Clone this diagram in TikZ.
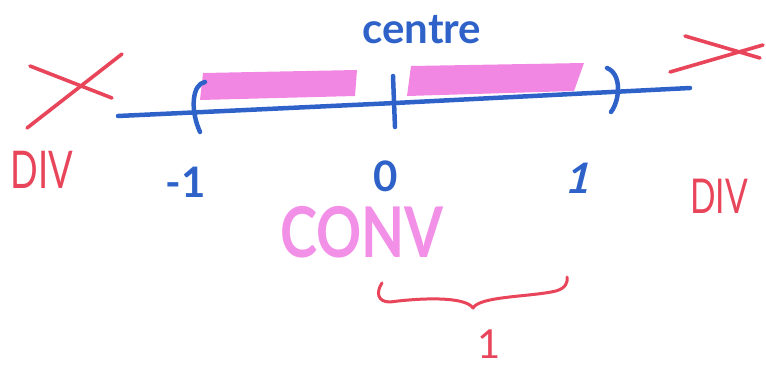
\documentclass[tikz,border=0pt]{standalone}
\usepackage{fontspec}
\setmainfont{Lato}
\definecolor{penblue}{HTML}{2F62C9}
\definecolor{penred}{HTML}{E8455A}
\definecolor{hlpink}{HTML}{F07ADF}
\definecolor{convpink}{HTML}{F290E8}
\begin{document}
\begin{tikzpicture}[x=1pt,y=-1pt,
  blueline/.style={draw=penblue,line width=4.5pt,line cap=round,line join=round},
  redline/.style={draw=penred,line width=3.6pt,line cap=round,line join=round},
  hl/.style={fill=hlpink,opacity=0.9},
  bluetxt/.style={text=penblue,inner sep=0pt},
  redtxt/.style={text=penred,inner sep=0pt}]
\useasboundingbox (0,0) rectangle (766,373);
% highlights
\fill[hl] (203,73) -- (357,70) -- (355,96) -- (200,100) -- cycle;
\fill[hl] (411,66) -- (584,63) -- (574,91) -- (407,96) -- cycle;
% axis
\coordinate (aL) at (118,116);
\coordinate (aR) at (690,88);
\draw[blueline] (aL) -- (395,103) -- (aR);
\coordinate (t1) at (393,76);
\coordinate (t2) at (395,127);
\draw[blueline] (t1) -- (t2);
% brackets
\coordinate (b1) at (205,82);
\coordinate (b2) at (200,132);
\draw[blueline] (b1) .. controls (192,84) and (190,110) .. (b2);
\coordinate (c1) at (607,68);
\coordinate (c2) at (611,112);
\draw[blueline] (c1) .. controls (622,74) and (620,100) .. (c2);
% labels
\node[bluetxt,font=\fontsize{42}{42}\selectfont\bfseries] (centre) at (422,30) {centre};
\node[bluetxt,font=\fontsize{42}{42}\selectfont\bfseries] (m1) at (186,182) {-1};
\node[bluetxt,font=\fontsize{42}{42}\selectfont\bfseries] (zero) at (386,176) {0};
\node[bluetxt,font=\fontsize{42}{42}\selectfont\bfseries,xslant=0.25] (one) at (580,178) {1};
% crosses
\coordinate (x1a) at (30,66); \coordinate (x1b) at (112,98);
\coordinate (x2a) at (122,54); \coordinate (x2b) at (27,128);
\draw[redline] (x1a) -- (x1b);
\draw[redline] (x2a) -- (x2b);
\coordinate (y1a) at (685,36); \coordinate (y1b) at (760,58);
\coordinate (y2a) at (670,72); \coordinate (y2b) at (763,45);
\draw[redline] (y1a) -- (y1b);
\draw[redline] (y2a) -- (y2b);
\node[redtxt,font=\fontsize{52}{52}\selectfont,xscale=0.7] (divl) at (42,170) {DIV};
\node[redtxt,font=\fontsize{48}{48}\selectfont,xscale=0.7] (divr) at (719,196) {DIV};
% conv
\node[text=convpink,inner sep=0pt,font=\fontsize{70}{70}\selectfont\bfseries,xscale=0.8] (conv) at (362,232) {CONV};
% brace
\coordinate (brL) at (382,283);
\coordinate (brM) at (473,308);
\coordinate (brR) at (567,277);
\draw[redline,line width=3pt] (brL) .. controls (376,292) and (377,302) .. (390,302)
  .. controls (420,298) and (465,296) .. (brM)
  .. controls (480,296) and (530,297) .. (556,291)
  .. controls (566,288) and (568,282) .. (brR);
\node[redtxt,font=\fontsize{40}{40}\selectfont,anchor=north] (onebr) at (489,330) {1};
\end{tikzpicture}
\end{document}
